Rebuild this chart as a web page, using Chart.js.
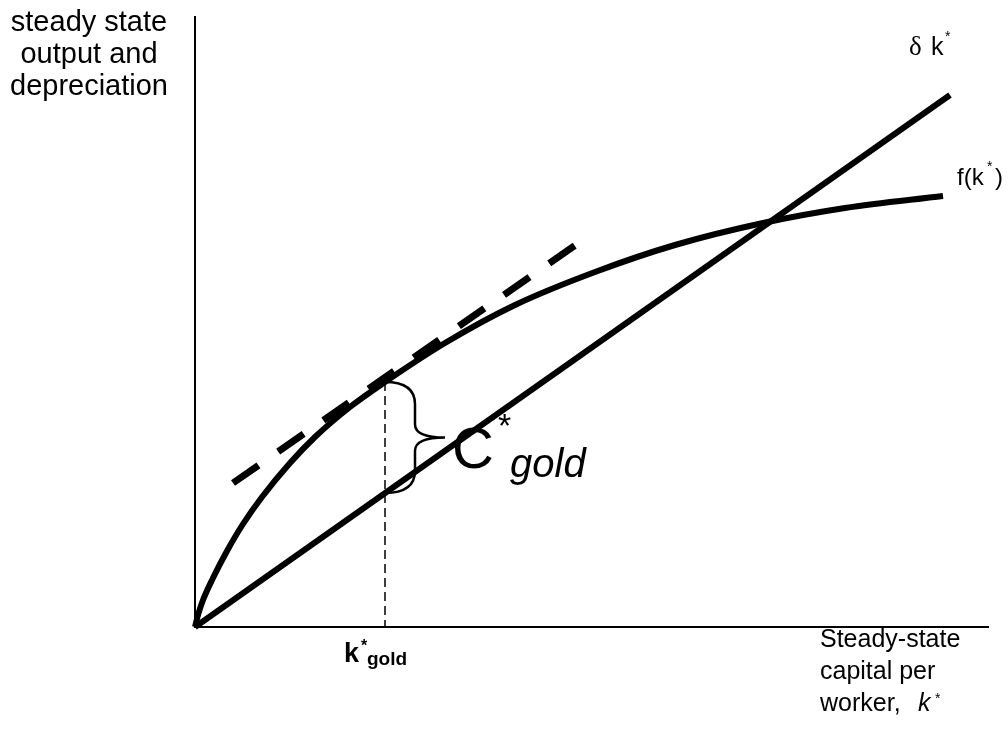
<!DOCTYPE html>
<html>
<head>
<meta charset="utf-8">
<script src="https://cdn.jsdelivr.net/npm/chart.js@4.4.0/dist/chart.umd.min.js"></script>
<style>
  html, body { margin: 0; padding: 0; background: #fff; }
  #wrap { width: 1008px; height: 740px; position: relative; }
</style>
</head>
<body>
<div id="wrap"><canvas id="chart" width="1008" height="740"></canvas></div>
<script>
// production function f(k*)
const fK = [0, 0.3, 0.8, 1.8, 3.2, 4.8, 6.7, 9.5, 12.0, 15.5, 19.0, 25.0, 32.0, 40.0, 48.0, 56.8, 65.0, 74.8];
const fY = [0, 1.2, 2.7, 4.9, 7.6, 10.3, 13.0, 16.4, 19.0, 22.0, 24.5, 28.4, 32.2, 35.5, 38.2, 40.4, 41.9, 43.1];

// depreciation line delta*k*
const depK = [0, 75.5];
const depY = [0, 53.2];

// tangent at the golden rule point (dashed)
const tanK = [3.8, 38.5];
const tanY = [14.4, 38.5];

// golden rule capital stock
const goldK = 19.0;
const goldF = 24.5;   // f(k*gold)
const goldDep = 13.4; // delta*k*gold

const xMax = 79.3;
const yMax = 61;

const pts = (xs, ys) => xs.map((x, i) => ({ x: x, y: ys[i] }));

const SANS = '"Liberation Sans", Arial, sans-serif';
const SERIF = '"Liberation Serif", "Times New Roman", serif';

// draw a line of text made of several runs (font, text, x, y)
function runs(ctx, list) {
    list.forEach(r => {
        ctx.font = r[0];
        ctx.fillText(r[1], r[2], r[3]);
    });
}

const labelsPlugin = {
    id: 'labels',
    afterDatasetsDraw(chart) {
        const ctx = chart.ctx;
        const xs = chart.scales.x, ys = chart.scales.y;
        ctx.save();

        // curly brace between f(k) and delta k at k*gold
        const bx = xs.getPixelForValue(goldK);
        const top = ys.getPixelForValue(goldF);
        const bot = ys.getPixelForValue(goldDep);
        const mid = (top + bot) / 2;
        const w = 60, h = bot - top;
        ctx.strokeStyle = '#000';
        ctx.lineWidth = 2.5;
        ctx.beginPath();
        ctx.moveTo(bx, top);
        ctx.quadraticCurveTo(bx + w / 2, top, bx + w / 2, top + h * 0.2);
        ctx.lineTo(bx + w / 2, mid - h * 0.12);
        ctx.quadraticCurveTo(bx + w / 2, mid, bx + w, mid);
        ctx.quadraticCurveTo(bx + w / 2, mid, bx + w / 2, mid + h * 0.12);
        ctx.lineTo(bx + w / 2, bot - h * 0.2);
        ctx.quadraticCurveTo(bx + w / 2, bot, bx, bot);
        ctx.stroke();
        ctx.restore();
    },
    afterDraw(chart) {
        const ctx = chart.ctx;
        ctx.save();
        ctx.fillStyle = '#000';
        ctx.textBaseline = 'alphabetic';

        // y axis title
        ctx.textAlign = 'center';
        ctx.font = '29px ' + SANS;
        ctx.fillText('steady state', 89, 31);
        ctx.fillText('output and', 89, 63);
        ctx.fillText('depreciation', 89, 95);

        ctx.textAlign = 'left';
        // delta k*
        runs(ctx, [
            ['27px ' + SERIF, 'δ', 909, 55],
            ['25px ' + SANS, 'k', 931, 55],
            ['14px ' + SANS, '*', 945, 41]
        ]);
        // f(k*)
        runs(ctx, [
            ['24px ' + SANS, 'f(k', 957, 185],
            ['14px ' + SANS, '*', 987, 171],
            ['24px ' + SANS, ')', 995, 185]
        ]);
        // C*gold
        runs(ctx, [
            ['58px ' + SANS, 'C', 452, 468],
            ['34px ' + SANS, '*', 498, 437],
            ['italic 40px ' + SANS, 'gold', 510, 477]
        ]);
        // k*gold
        runs(ctx, [
            ['bold 27px ' + SANS, 'k', 344, 662],
            ['bold 16px ' + SANS, '*', 361, 651],
            ['bold 19px ' + SANS, 'gold', 367, 665]
        ]);
        // x axis title
        ctx.font = '25px ' + SANS;
        ctx.fillText('Steady-state', 820, 647);
        ctx.fillText('capital per', 820, 679);
        runs(ctx, [
            ['25px ' + SANS, 'worker,', 820, 711],
            ['italic 25px ' + SANS, 'k', 918, 711],
            ['14px ' + SANS, '*', 935, 703]
        ]);
        ctx.restore();
    }
};

new Chart(document.getElementById('chart').getContext('2d'), {
    type: 'line',
    data: {
        datasets: [
            {
                label: 'f(k*)',
                data: pts(fK, fY),
                borderColor: '#000',
                borderWidth: 6,
                cubicInterpolationMode: 'monotone',
                pointRadius: 0,
                clip: false
            },
            {
                label: 'δk*',
                data: pts(depK, depY),
                borderColor: '#000',
                borderWidth: 6,
                pointRadius: 0,
                clip: false
            },
            {
                label: 'tangent',
                data: pts(tanK, tanY),
                borderColor: '#000',
                borderWidth: 7,
                borderDash: [31, 24],
                borderCapStyle: 'butt',
                pointRadius: 0,
                clip: false
            },
            {
                label: 'k*gold',
                data: pts([goldK, goldK], [goldF, 0]),
                borderColor: '#000',
                borderWidth: 1.5,
                borderDash: [9, 5],
                pointRadius: 0,
                clip: false
            }
        ]
    },
    options: {
        responsive: false,
        animation: false,
        events: [],
        layout: { padding: { top: 17, right: 20, left: 0, bottom: 0 } },
        plugins: {
            legend: { display: false },
            tooltip: { enabled: false }
        },
        scales: {
            x: {
                type: 'linear',
                min: 0,
                max: xMax,
                grid: { display: false },
                ticks: { display: false },
                border: { display: true, color: '#000', width: 2 },
                afterFit: s => { s.height = 113; }
            },
            y: {
                type: 'linear',
                min: 0,
                max: yMax,
                grid: { display: false },
                ticks: { display: false },
                border: { display: true, color: '#000', width: 2 },
                afterFit: s => { s.width = 195; }
            }
        }
    },
    plugins: [labelsPlugin]
});
</script>
</body>
</html>
